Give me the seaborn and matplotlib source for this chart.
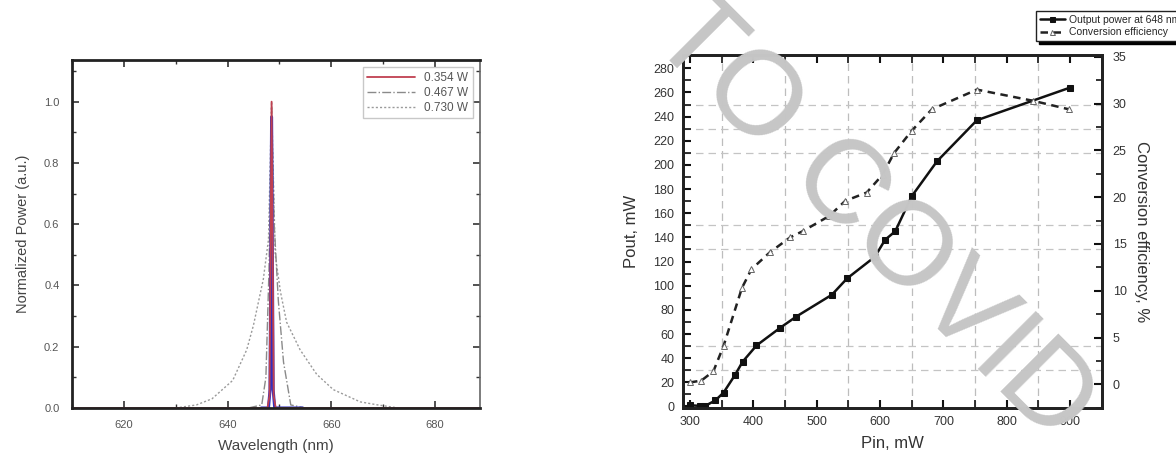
import numpy as np
import pandas as pd
import matplotlib
matplotlib.use("Agg")
import matplotlib.pyplot as plt
import seaborn as sns
from matplotlib.ticker import MultipleLocator

# ---------------- data: left panel (spectra) ----------------
wl_354 = [610, 647.7, 648.1, 648.5, 648.9, 649.3, 689]
p_354 = [0, 0, 0.04, 1.0, 0.04, 0, 0]

wl_blue = [646.5, 647.9, 648.2, 648.5, 648.8, 649.1, 654.5]
p_blue = [0, 0, 0.06, 0.95, 0.06, 0, 0]

wl_467 = [644, 646.6, 647.4, 648.0, 648.5, 649.0, 649.8, 650.8, 652.2, 655]
p_467 = [0, 0.01, 0.1, 0.45, 0.98, 0.6, 0.35, 0.15, 0.01, 0]

wl_730 = [630, 634, 637, 641, 643.7, 645, 646.9, 647.9, 648.5, 649.2,
          650.2, 651.4, 654, 657.2, 660.4, 665.6, 669, 673]
p_730 = [0, 0.01, 0.03, 0.09, 0.19, 0.27, 0.42, 0.55, 1.0, 0.5,
         0.38, 0.28, 0.19, 0.11, 0.06, 0.02, 0.01, 0]

spec_labels = ["0.354 W", "0.467 W", "0.730 W"]

# ---------------- data: right panel ----------------
pin_out = [300, 316, 324, 340, 353, 371, 383, 405, 442, 468, 524, 548,
           592, 608, 624, 650, 690, 753, 900]
pout = [1, 0.5, 0.5, 5, 11.5, 26, 37, 50.5, 65, 74.5, 92.5, 106,
        124, 138, 145, 174, 203, 237, 264]

pin_eff = [300, 318, 337, 353, 382, 397, 426, 458, 479, 520, 545, 579,
           604, 622, 650, 682, 753, 842, 898]
eff = [0.2, 0.4, 1.4, 4.1, 10.3, 12.3, 14.1, 15.7, 16.4, 18.0, 19.6, 20.5,
       22.4, 24.7, 27.1, 29.4, 31.5, 30.3, 29.4]

grid_x = [350, 450, 550, 650, 750, 850]
grid_y = [30, 50, 130, 150, 210, 230, 250]

right_labels = ["Output power at 648 nm", "Conversion efficiency"]

# ---------------- style ----------------
sns.set_style("ticks")
plt.rcParams['font.family'] = ['Liberation Sans', 'DejaVu Sans']

fig = plt.figure(figsize=(11.76, 4.58), dpi=100)

# ---------------- left panel ----------------
axL = fig.add_axes([72/1176, 1-408/458, 408/1176, 348/458])
sns.lineplot(x=wl_730, y=p_730, ax=axL, color="#9a9a9a", lw=1.0,
             linestyle=(0, (1.5, 1.5)), label=spec_labels[2], sort=False)
sns.lineplot(x=wl_467, y=p_467, ax=axL, color="#8a8a8a", lw=1.0,
             linestyle="-.", label=spec_labels[1], sort=False)
sns.lineplot(x=wl_blue, y=p_blue, ax=axL, color="#3030c0", lw=2.2, sort=False)
sns.lineplot(x=wl_354, y=p_354, ax=axL, color="#c04050", lw=1.3,
             label=spec_labels[0], sort=False)

axL.set_xlim(610, 688.7)
axL.set_ylim(0, 1.136)
axL.xaxis.set_major_locator(MultipleLocator(20))
axL.xaxis.set_minor_locator(MultipleLocator(10))
axL.yaxis.set_major_locator(MultipleLocator(0.2))
axL.yaxis.set_minor_locator(MultipleLocator(0.1))
axL.yaxis.set_major_formatter(matplotlib.ticker.FormatStrFormatter('%.1f'))
axL.tick_params(which='both', direction='in', top=True, right=True,
                labelsize=8, labelcolor="#555555", color="#333333")
axL.tick_params(which='major', length=5, width=1.2, pad=9)
axL.tick_params(which='minor', length=3, width=1.0)
for s in axL.spines.values():
    s.set_linewidth(2.0)
    s.set_color("#222222")
axL.spines['right'].set_linewidth(1.2)
axL.spines['right'].set_color("#666666")
axL.set_xlabel("Wavelength (nm)", fontsize=11, color="#444444", labelpad=6)
axL.set_ylabel("Normalized Power (a.u.)", fontsize=10.5, color="#444444", labelpad=10)

h, l = axL.get_legend_handles_labels()
order = [l.index(x) for x in spec_labels]
legL = axL.legend([h[i] for i in order], [l[i] for i in order], loc='upper right',
                  fontsize=8.5, frameon=True, fancybox=False, edgecolor="#bbbbbb",
                  labelcolor="#555555", borderaxespad=0.6, handlelength=4.0,
                  labelspacing=0.25, borderpad=0.4)
legL.get_frame().set_linewidth(1.0)

# ---------------- right panel ----------------
axR = fig.add_axes([682.7/1176, 1-407.7/458, 419/1176, 352.7/458])
axE = axR.twinx()

for gx in grid_x:
    axR.axvline(gx, color="#bdbdbd", lw=0.9, linestyle=(0, (6, 4)), zorder=0)
for gy in grid_y:
    axR.axhline(gy, color="#c4c4c4", lw=0.9, linestyle=(0, (6, 4)), zorder=0)

sns.lineplot(x=pin_out, y=pout, ax=axR, color="#111111", lw=1.8, marker='s',
             markersize=4.5, markeredgecolor="#111111", label=right_labels[0])
sns.lineplot(x=pin_eff, y=eff, ax=axE, color="#222222", lw=1.8,
             linestyle=(0, (3, 2.2)), marker='^', markersize=4.5,
             markerfacecolor="white", markeredgecolor="#666666",
             markeredgewidth=0.7, label=right_labels[1])

axR.set_xlim(288.5, 950)
axR.set_ylim(-1, 291)
axE.set_ylim(-2.5, 35.2)
axR.xaxis.set_major_locator(MultipleLocator(100))
axR.xaxis.set_minor_locator(MultipleLocator(50))
axR.yaxis.set_major_locator(MultipleLocator(20))
axR.yaxis.set_minor_locator(MultipleLocator(10))
axE.yaxis.set_major_locator(MultipleLocator(5))
axE.yaxis.set_minor_locator(MultipleLocator(2.5))
axE.set_yticks([0, 5, 10, 15, 20, 25, 30, 35])

axR.tick_params(which='both', direction='in', top=True, right=False,
                labelsize=9, labelcolor="#333333", color="#111111")
axR.tick_params(which='major', length=6, width=1.5, pad=6)
axR.tick_params(which='minor', length=6, width=1.2)
axE.tick_params(which='both', direction='in', labelsize=9,
                labelcolor="#333333", color="#111111")
axE.tick_params(which='major', length=6, width=1.5, pad=8)
axE.tick_params(which='minor', length=4, width=1.2)
for ax in (axR, axE):
    for s in ax.spines.values():
        s.set_linewidth(2.0)
        s.set_color("#222222")

axR.set_xlabel("Pin, mW", fontsize=12, color="#333333", labelpad=6)
axR.set_ylabel("Pout, mW", fontsize=12, color="#333333", labelpad=10)
axE.set_ylabel("Conversion efficiency, %", fontsize=12, color="#333333",
               rotation=-90, labelpad=16)

if axR.get_legend():
    axR.get_legend().remove()
if axE.get_legend():
    axE.get_legend().remove()
h1, l1 = axR.get_legend_handles_labels()
h2, l2 = axE.get_legend_handles_labels()
legR = fig.legend(h1 + h2, l1 + l2, loc='upper left',
                  bbox_to_anchor=(1031/1176, 1-6/458), fontsize=7.5,
                  frameon=True, fancybox=False, edgecolor="#222222",
                  shadow={'color': 'black', 'alpha': 1.0},
                  handlelength=2.4, labelspacing=0.25, borderpad=0.35,
                  handletextpad=0.4, markerscale=0.8)

# ---------------- watermark ----------------
fig.text(872/1176, 1-220/458, "TO COVID", rotation=-45, fontsize=86,
         color="#c6c6c6", ha='center', va='center', zorder=20,
         family='Liberation Sans')

fig.savefig("out.png", dpi=100)
